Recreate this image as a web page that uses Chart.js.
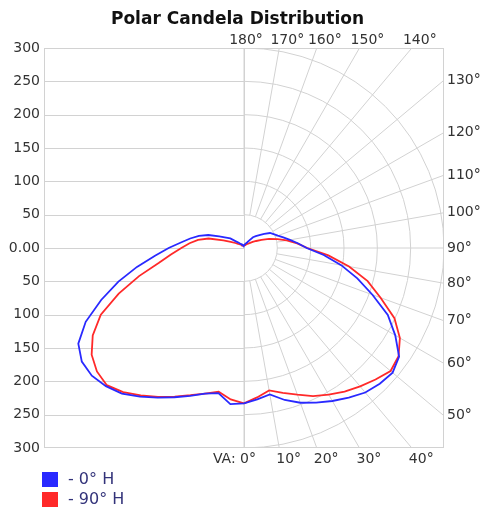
<!DOCTYPE html>
<html>
<head>
<meta charset="utf-8">
<style>
  html, body { margin: 0; padding: 0; background: #fff; }
</style>
<script src="https://cdn.jsdelivr.net/npm/chart.js@4.4.1/dist/chart.umd.min.js"></script>
</head>
<body>
<canvas id="polar" width="482" height="510"></canvas>
<script>
// vertical angles (deg, 0 = straight down) and candela
const VA = [0, 5, 10, 15, 20, 25, 30, 35, 40, 45, 50, 55, 60, 65, 70, 75, 80, 85, 90,
  95, 100, 105, 110, 115, 120, 125, 130, 135, 140, 145, 150, 155, 160, 165, 170, 175, 180];
// 0° H plane: right half, and the opposite half drawn on the left
const H0_RIGHT = [233, 228, 223, 236, 247, 256, 265, 274, 283, 288, 291, 284, 262, 238, 205, 176, 148, 120, 94,
  81, 70, 61, 54, 49, 45, 37, 30, 25, 21, 14, 10, 8, 7, 6, 5, 4, 4];
const H0_LEFT = [233, 235, 221, 226, 236, 247, 259, 272, 285, 293, 298, 297, 287, 262, 228, 195, 163, 134, 113,
  95, 82, 70, 57, 41, 31, 25, 15, 11, 8, 7, 6, 5, 5, 4, 4, 4, 4];
// 90° H plane
const H90_RIGHT = [233, 225, 217, 225, 234, 245, 254, 263, 271, 279, 287, 283, 270, 249, 218, 192, 160, 127, 95,
  80, 65, 52, 40, 29, 21, 16, 12, 9, 8, 7, 6, 5, 5, 4, 4, 4, 4];
const H90_LEFT = [233, 228, 219, 226, 235, 246, 258, 270, 282, 291, 288, 279, 262, 237, 200, 163, 130, 110, 94,
  82, 70, 55, 33, 22, 15, 11, 9, 7, 6, 5, 5, 4, 4, 4, 4, 4, 4];

const SERIES = ['- 0° H', '- 90° H'];
const RINGS = [50, 100, 150, 200, 250, 300];
const SPOKES = [0, 10, 20, 30, 40, 50, 60, 70, 80, 90, 100, 110, 120, 130, 140, 150, 160, 170, 180];
const BOTTOM_LABELS = [10, 20, 30, 40];
const SIDE_LABELS = [50, 60, 70, 80, 90, 100, 110, 120, 130];
const TOP_LABELS = [140, 150, 160, 170, 180];

const FONT = '"DejaVu Sans", Verdana, sans-serif';
const GRID = '#d2d2d2';
const TXT = '#333';
const rad = (d) => d * Math.PI / 180;

// closed loop: right half 0 -> 180, then left half 180 -> 0
function loop(right, left) {
  const pts = VA.map((a, i) => ({ x: right[i] * Math.sin(rad(a)), y: -right[i] * Math.cos(rad(a)) }));
  for (let i = VA.length - 1; i >= 0; i--) {
    pts.push({ x: -left[i] * Math.sin(rad(VA[i])), y: -left[i] * Math.cos(rad(VA[i])) });
  }
  return pts;
}

const polarGrid = {
  id: 'polarGrid',
  beforeDatasetsDraw(chart) {
    const { ctx, chartArea: a, scales: { x, y } } = chart;
    const cx = x.getPixelForValue(0), cy = y.getPixelForValue(0);
    const k = x.getPixelForValue(1) - cx;
    ctx.save();
    ctx.beginPath(); ctx.rect(a.left, a.top, a.width, a.height); ctx.clip();
    ctx.strokeStyle = GRID; ctx.lineWidth = 1;
    ctx.beginPath();
    // horizontal lines, left half only
    y.ticks.forEach((t) => {
      const py = Math.round(y.getPixelForValue(t.value)) + 0.5;
      ctx.moveTo(a.left, py); ctx.lineTo(cx, py);
    });
    ctx.moveTo(Math.round(cx) + 0.5, a.top); ctx.lineTo(Math.round(cx) + 0.5, a.bottom);
    ctx.stroke();
    // rings
    RINGS.forEach((r) => {
      ctx.beginPath(); ctx.arc(cx, cy, r * k, -Math.PI / 2, Math.PI / 2); ctx.stroke();
    });
    // spokes from the inner ring outwards
    const r0 = RINGS[0] * k, far = 2 * a.width;
    ctx.beginPath();
    SPOKES.forEach((d) => {
      const s = Math.sin(rad(d)), c = Math.cos(rad(d));
      ctx.moveTo(cx + r0 * s, cy + r0 * c); ctx.lineTo(cx + far * s, cy + far * c);
    });
    ctx.stroke();
    ctx.restore();
    ctx.save();
    ctx.strokeStyle = GRID;
    ctx.strokeRect(a.left + 0.5, a.top + 0.5, a.width - 1, a.height - 1);
    ctx.restore();
  },
  afterDraw(chart) {
    const { ctx, chartArea: a, scales: { x, y } } = chart;
    const cx = x.getPixelForValue(0), cy = y.getPixelForValue(0);
    ctx.save();
    ctx.font = '14px ' + FONT; ctx.fillStyle = TXT; ctx.textBaseline = 'middle';
    // bottom
    ctx.textAlign = 'right';
    ctx.fillText('VA: 0°', cx + 12, a.bottom + 11);
    ctx.textAlign = 'left';
    BOTTOM_LABELS.forEach((d) => {
      ctx.fillText(d + '°', cx + (a.bottom - cy) * Math.tan(rad(d)) - 3, a.bottom + 11);
    });
    // right side
    SIDE_LABELS.forEach((d) => {
      ctx.fillText(d + '°', a.right + 3, cy + (a.right - cx) * Math.cos(rad(d)) / Math.sin(rad(d)));
    });
    // top
    ctx.textAlign = 'center';
    TOP_LABELS.forEach((d) => {
      const off = d === 180 ? 2 : 8;
      ctx.fillText(d + '°', cx + (cy - a.top) * Math.tan(rad(180 - d)) + off, a.top - 8);
    });
    // legend, two rows
    ctx.font = '16px ' + FONT;
    chart.data.datasets.forEach((ds, i) => {
      const top = a.bottom + 24 + i * 20;
      ctx.fillStyle = ds.borderColor;
      ctx.fillRect(a.left - 2, top, 16, 15);
      ctx.fillStyle = '#33337a';
      ctx.textAlign = 'left';
      ctx.fillText(ds.label, a.left + 24, top + 8);
    });
    ctx.restore();
  }
};

new Chart(document.getElementById('polar'), {
  type: 'scatter',
  data: {
    datasets: [
      { label: SERIES[0], data: loop(H0_RIGHT, H0_LEFT), borderColor: '#2929ff', backgroundColor: '#2929ff' },
      { label: SERIES[1], data: loop(H90_RIGHT, H90_LEFT), borderColor: '#ff2929', backgroundColor: '#ff2929' }
    ].map((d) => Object.assign(d, { showLine: true, borderWidth: 1.8, pointRadius: 0, tension: 0 }))
  },
  options: {
    responsive: false, animation: false, devicePixelRatio: 1,
    layout: { padding: { left: 0, right: 7, bottom: 62 } },
    plugins: {
      legend: { display: false }, tooltip: { enabled: false },
      title: {
        display: true, text: 'Polar Candela Distribution', color: '#111',
        font: { family: FONT, size: 17, weight: 'bold', lineHeight: 1.2 }, padding: { top: 9, bottom: 18.6 }
      }
    },
    scales: {
      x: { type: 'linear', min: -300, max: 300, display: false },
      y: {
        min: -300, max: 300, position: 'left',
        grid: { display: false, drawTicks: false }, border: { display: false },
        ticks: { stepSize: 50, padding: 4, color: TXT, font: { family: FONT, size: 14 },
          callback: (v) => v === 0 ? '0.00' : String(Math.abs(v)) },
        afterFit: (s) => { s.width = 44; }
      },
      y2: {
        position: 'right', display: true,
        grid: { display: false, drawTicks: false }, border: { display: false },
        ticks: { display: false },
        afterFit: (s) => { s.width = 31; }
      }
    }
  },
  plugins: [polarGrid]
});
</script>
</body>
</html>
